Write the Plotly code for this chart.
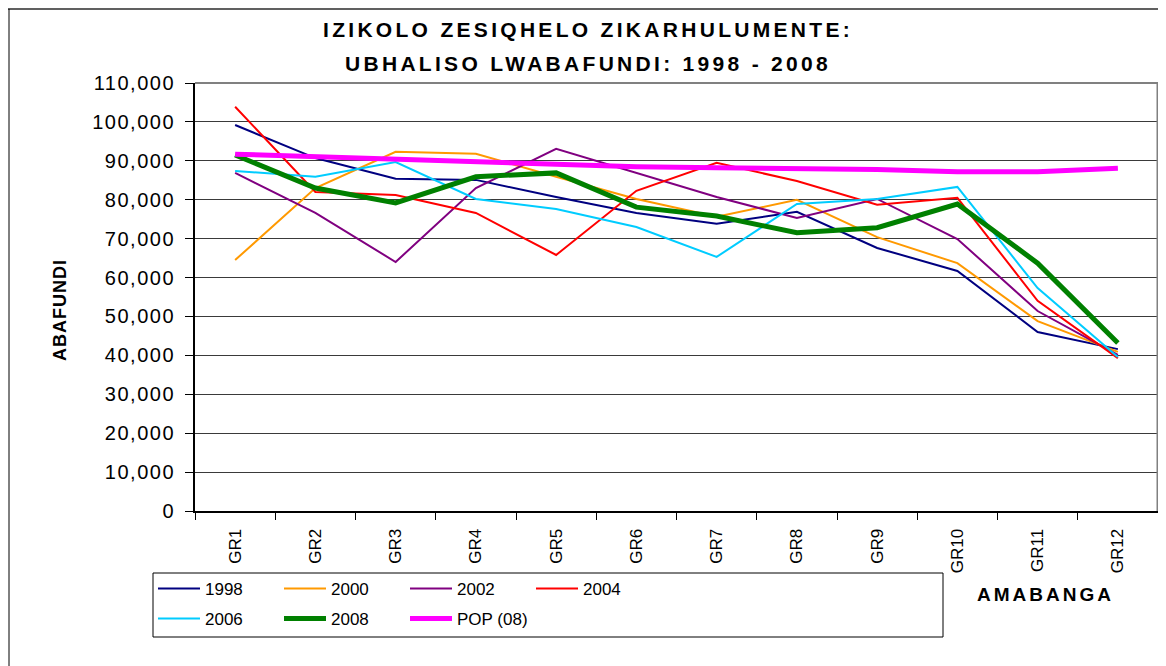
import plotly.graph_objects as go

grades = ["GR1", "GR2", "GR3", "GR4", "GR5", "GR6", "GR7", "GR8", "GR9", "GR10", "GR11", "GR12"]

y1998 = [99200, 90700, 85400, 85100, 80700, 76600, 73800, 76900, 67600, 61700, 46000, 41600]
y2000 = [64500, 83000, 92300, 91800, 85900, 80200, 75600, 80000, 70400, 63700, 48800, 40900]
y2002 = [86900, 76600, 64000, 83000, 93100, 86900, 80700, 75300, 80200, 69900, 51400, 40100]
y2004 = [103900, 82000, 81200, 76600, 65800, 82300, 89500, 84800, 78700, 80500, 54000, 39300]
y2006 = [87400, 85900, 89700, 80200, 77600, 73000, 65300, 78900, 80200, 83300, 57300, 39600]
y2008 = [91500, 83000, 79200, 85900, 86900, 78100, 75800, 71500, 72800, 78900, 63700, 43200]
ypop = [91700, 91100, 90400, 89600, 89000, 88500, 88200, 88100, 87800, 87200, 87200, 88100]

tick_vals = [0, 10000, 20000, 30000, 40000, 50000, 60000, 70000, 80000, 90000, 100000, 110000]
tick_text = ["0", "10,000", "20,000", "30,000", "40,000", "50,000", "60,000",
             "70,000", "80,000", "90,000", "100,000", "110,000"]

FONT = "Liberation Sans Narrow, Arial Narrow, Liberation Sans, sans-serif"

def sp(t, px):
    return f'<span style="letter-spacing:{px}px">{t}</span>'

series = [
    ("1998", y1998, "#000080", 2, "legend"),
    ("2000", y2000, "#FF9900", 2, "legend"),
    ("2002", y2002, "#800080", 2, "legend"),
    ("2004", y2004, "#FF0000", 2, "legend"),
    ("2006", y2006, "#00CCFF", 2, "legend2"),
    ("2008", y2008, "#008000", 5, "legend2"),
    ("POP (08)", ypop, "#FF00FF", 5, "legend2"),
]

fig = go.Figure()
for name, ys, col, w, lg in series:
    fig.add_trace(go.Scatter(
        x=grades, y=ys, mode="lines", name=name,
        line=dict(color=col, width=w), legend=lg,
    ))

# page body has an 8px margin; work in screenshot pixels and convert
OFF = 8
W, H = 1158, 658
L, R, T, B = 195 - OFF, 8, 83 - OFF, 155
pw, ph = W - L - R, H - T - B

def px_x(x):
    return (x - OFF - L) / pw

def px_y(y):
    return (H - B - (y - OFF)) / ph

legend_common = dict(orientation="h", xanchor="left", yanchor="top",
                     entrywidth=69, entrywidthmode="pixels", itemwidth=42,
                     font=dict(family=FONT, size=17), bgcolor="rgba(0,0,0,0)")

fig.update_layout(
    width=W, height=H,
    margin=dict(l=L, r=R, t=T, b=B, pad=0, autoexpand=False),
    paper_bgcolor="white", plot_bgcolor="white",
    font=dict(family=FONT, color="black", size=16),
    showlegend=True,
    legend=dict(x=px_x(153), y=px_y(571), **legend_common),
    legend2=dict(x=px_x(153), y=px_y(601), **legend_common),
    xaxis=dict(
        type="category", tickson="boundaries", ticks="outside", ticklen=7,
        tickcolor="black", tickwidth=1, tickangle=-90,
        showline=True, linecolor="black", linewidth=2, showgrid=False,
        tickfont=dict(family=FONT, size=17), range=[-0.5, 11.5], fixedrange=True,
        ticklabelstandoff=9,
    ),
    yaxis=dict(
        range=[0, 110000], tickvals=tick_vals, ticktext=[sp(t, 1.5) for t in tick_text],
        ticks="outside", ticklen=8, tickcolor="black", tickwidth=1,
        showline=True, linecolor="black", linewidth=2,
        showgrid=True, gridcolor="#3a3a3a", gridwidth=1, zeroline=False,
        tickfont=dict(family=FONT, size=20), ticklabelstandoff=6,
    ),
    shapes=[
        dict(type="line", xref="paper", yref="paper", x0=1, x1=1, y0=0, y1=1,
             line=dict(color="#808080", width=3)),
        dict(type="line", xref="paper", yref="paper", x0=0, x1=1, y0=1, y1=1,
             line=dict(color="#808080", width=2)),
        dict(type="rect", xref="paper", yref="paper", x0=px_x(153), x1=px_x(943),
             y0=px_y(637), y1=px_y(573), line=dict(color="black", width=1)),
        dict(type="line", xref="paper", yref="paper", x0=px_x(8), x1=px_x(1166),
             y0=px_y(9), y1=px_y(9), line=dict(color="#606060", width=2)),
        dict(type="line", xref="paper", yref="paper", x0=px_x(9), x1=px_x(9),
             y0=px_y(666), y1=px_y(9), line=dict(color="black", width=1)),
    ],
    annotations=[
        dict(text="<b>" + sp("IZIKOLO ZESIQHELO ZIKARHULUMENTE:", 3.3) + "</b>",
             xref="paper", yref="paper", x=px_x(588), y=px_y(30), showarrow=False,
             xanchor="center", yanchor="middle", font=dict(family=FONT, size=21)),
        dict(text="<b>" + sp("UBHALISO LWABAFUNDI: 1998 - 2008", 3.3) + "</b>",
             xref="paper", yref="paper", x=px_x(588), y=px_y(63), showarrow=False,
             xanchor="center", yanchor="middle", font=dict(family=FONT, size=21)),
        dict(text="<b>" + sp("ABAFUNDI", 1) + "</b>", textangle=-90,
             xref="paper", yref="paper", x=px_x(60), y=px_y(310), showarrow=False,
             xanchor="center", yanchor="middle", font=dict(family=FONT, size=18)),
        dict(text="<b>" + sp("AMABANGA", 3) + "</b>",
             xref="paper", yref="paper", x=px_x(1045), y=px_y(594), showarrow=False,
             xanchor="center", yanchor="middle", font=dict(family=FONT, size=19)),
    ],
)

fig.write_html("out.html")
